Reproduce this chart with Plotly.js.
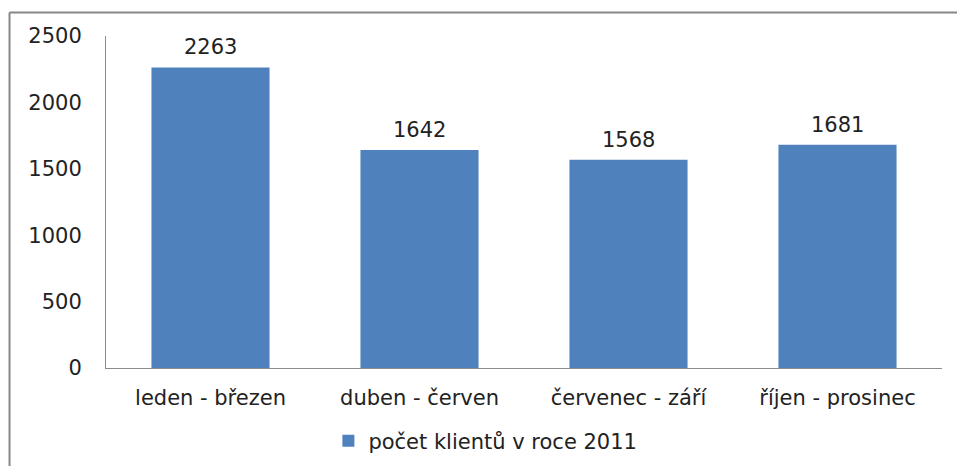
<!DOCTYPE html>
<html>
<head>
<meta charset="utf-8">
<script src="https://cdn.plot.ly/plotly-3.0.1.min.js"></script>
<style>
html,body{margin:0;padding:0;background:#fff;}
#chart{width:957px;height:466px;}
</style>
</head>
<body>
<div id="chart"></div>
<script>
const categories = ["leden - březen", "duben - červen", "červenec - září", "říjen - prosinec"];
const values = [2263, 1642, 1568, 1681];
const seriesName = "počet klientů v roce 2011";
const yTicks = [0, 500, 1000, 1500, 2000, 2500];

const FONT = "DejaVu Sans, sans-serif";
const fontSize = 21;

const trace = {
  type: "bar",
  x: categories,
  y: values,
  name: seriesName,
  marker: {color: "#4F81BD", line: {width: 0}},
  hoverinfo: "x+y"
};

const annotations = categories.map((c, i) => ({
  x: c, y: values[i], xref: "x", yref: "y",
  text: String(values[i]),
  showarrow: false,
  yanchor: "bottom",
  yshift: 6,
  font: {family: FONT, size: fontSize, color: "#222"}
}));

const layout = {
  width: 957,
  height: 466,
  margin: {l: 106, r: 15, t: 36, b: 98, autoexpand: false},
  paper_bgcolor: "#fff",
  plot_bgcolor: "#fff",
  font: {family: FONT, size: fontSize, color: "#222"},
  bargap: 0.435,
  showlegend: true,
  legend: {
    orientation: "h",
    x: 0.266, xanchor: "left",
    y: -0.22, yanchor: "middle",
    font: {family: FONT, size: fontSize, color: "#222"}
  },
  xaxis: {
    type: "category",
    automargin: false,
    showline: true,
    linecolor: "#8c8c8c",
    linewidth: 1,
    ticks: "",
    showgrid: false,
    zeroline: false,
    ticklabelstandoff: 11,
    tickfont: {family: FONT, size: fontSize, color: "#222"}
  },
  yaxis: {
    range: [0, 2500],
    automargin: false,
    tickvals: yTicks,
    ticktext: yTicks.map(String),
    showline: true,
    linecolor: "#8c8c8c",
    linewidth: 1,
    ticks: "",
    showgrid: false,
    zeroline: false,
    ticklabelstandoff: 19,
    tickfont: {family: FONT, size: fontSize, color: "#222"}
  },
  annotations: annotations,
  shapes: [
    {type: "line", xref: "paper", yref: "paper",
     x0: -0.1154, x1: -0.1154, y0: 1.0708, y1: -0.32,
     line: {color: "#878787", width: 2}},
    {type: "line", xref: "paper", yref: "paper",
     x0: -0.1154, x1: 1.03, y0: 1.0708, y1: 1.0708,
     line: {color: "#878787", width: 2}}
  ]
};

Plotly.newPlot("chart", [trace], layout, {displayModeBar: false, staticPlot: true});
</script>
</body>
</html>
